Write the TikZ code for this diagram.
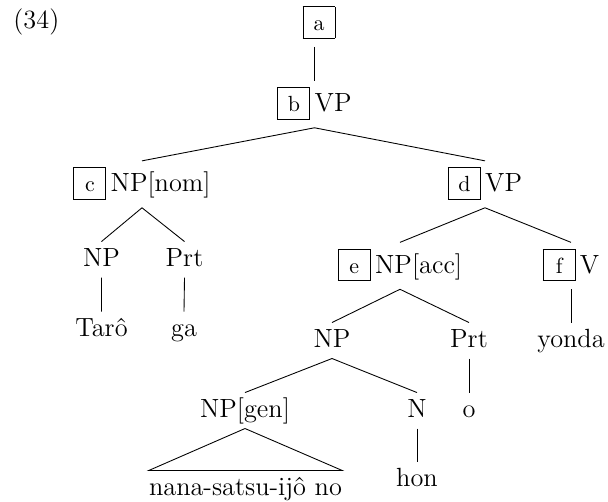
\documentclass[12pt,tikz,border=0pt]{standalone}
\usepackage{tikz}
\usepackage{amsmath}
\tikzset{cat/.style={anchor=base, inner sep=0pt, text height=11.4pt, text depth=4.6pt},
	bcat/.style={cat, text height=14pt, text depth=7pt}}
\newcommand{\boxlab}[1]{{\setlength{\fboxsep}{0pt}\fbox{\makebox[14.2pt]{\rule[-3.1pt]{0pt}{14pt}\footnotesize #1}}}}

\begin{document}
\begin{tikzpicture}[x=0.456pt, y=-0.456pt]
	\useasboundingbox (0,0) rectangle (608,502);
	\node[anchor=base west, inner sep=0pt] (num) at (13,29) {(34)};
	% boxed nodes
	\node[bcat] (a) at (319,31) {\boxlab{a}};
	\node[bcat] (b) at (314.5,112) {\boxlab{b}\,VP};
	\node[bcat] (c) at (142,192) {\boxlab{c}\,NP[nom]};
	\node[bcat] (d) at (485,192) {\boxlab{d}\,VP};
	\node[bcat] (e) at (400,273.5) {\boxlab{e}\,NP[acc]};
	\node[bcat] (f) at (571,273.5) {\boxlab{f}\,V};
	% plain nodes
	\node[cat] (np1) at (101.5,267) {NP};
	\node[cat] (prt1) at (184.5,267) {Prt};
	\node[cat] (taro) at (101.5,337) {Tar\^o};
	\node[cat] (ga) at (184,337) {ga};
	\node[cat] (np2) at (332,348) {NP};
	\node[cat] (prt2) at (469,348) {Prt};
	\node[cat] (yonda) at (571,348) {yonda};
	\node[cat] (gen) at (245,418) {NP[gen]};
	\node[cat] (n) at (417,418) {N};
	\node[cat] (o) at (469,418) {o};
	\node[cat] (nana) at (245.5,496) {nana-satsu-ij\^o no};
	\node[cat] (hon) at (417,487) {hon};
	% branches
	\draw (a.south -| b.north) -- (b.north);
	\draw (b.south) -- (c.north) (b.south) -- (d.north);
	\draw (c.south) -- (np1.north) (c.south) -- (prt1.north);
	\draw (np1.south) -- (taro.north) (prt1.south) -- (ga.north);
	\draw (d.south) -- (e.north) (d.south) -- (f.north);
	\draw (e.south) -- (np2.north) (e.south) -- (prt2.north);
	\draw (f.south) -- (yonda.north);
	\draw (np2.south) -- (gen.north) (np2.south) -- (n.north);
	\draw (prt2.south) -- (o.north);
	\draw (n.south) -- (hon.north);
	\draw (gen.south) -- (nana.north west) -- (nana.north east) -- cycle;
\end{tikzpicture}
\end{document}
